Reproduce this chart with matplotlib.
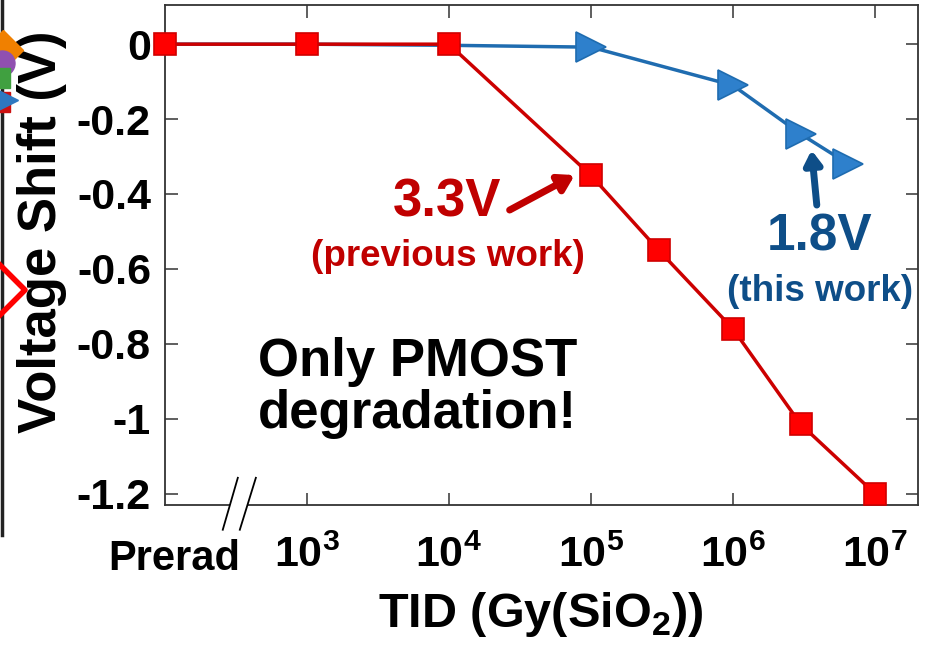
"""
Voltage shift vs. TID for the 3.3V and 1.8V PMOST devices
"""

import matplotlib.pyplot as plt
import matplotlib.transforms as mtransforms
from matplotlib.patches import Polygon

plt.rcParams['font.family'] = ['Liberation Sans', 'DejaVu Sans']
plt.rcParams['font.weight'] = 'bold'
plt.rcParams['mathtext.fontset'] = 'custom'
plt.rcParams['mathtext.rm'] = 'Liberation Sans:bold'
plt.rcParams['mathtext.bf'] = 'Liberation Sans:bold'

# data (Prerad is drawn at 1e2, behind the axis break)
PRERAD = 1e2
red_dose = [PRERAD, 1e3, 1e4, 1e5, 3e5, 1e6, 3e6, 1e7]
red_shift = [0, 0, 0, -0.35, -0.55, -0.76, -1.015, -1.2]

blue_dose = [PRERAD, 1e3, 1e4, 1e5, 1e6, 3e6, 6.5e6]
blue_shift = [0, 0, -0.003, -0.008, -0.11, -0.24, -0.32]

y_ticks = [0, -0.2, -0.4, -0.6, -0.8, -1, -1.2]
y_ticklabels = ['0', '-0.2', '-0.4', '-0.6', '-0.8', '-1', '-1.2']
x_ticks = [1e3, 1e4, 1e5, 1e6, 1e7]
x_ticklabels = [r'$\mathbf{10^{%d}}$' % n for n in range(3, 8)]

RED_LINE = '#CC0000'
RED_FACE = '#FF0000'
RED_TEXT = '#C00000'
BLUE_LINE = '#1F6CB0'
BLUE_FACE = '#2E80CC'
BLUE_TEXT = '#0E4E88'

fig = plt.figure(figsize=(9.26, 6.53), dpi=100)
ax = fig.add_axes([0.178, 0.227, 0.813, 0.765])

ax.plot(blue_dose, blue_shift, color=BLUE_LINE, lw=2.5, marker='>',
        markersize=22, markerfacecolor=BLUE_FACE, markeredgecolor=BLUE_LINE,
        markeredgewidth=1.2, markevery=[3, 4, 5, 6], zorder=3, clip_on=False)
ax.plot(red_dose, red_shift, color=RED_LINE, lw=2.5, marker='s',
        markersize=16, markerfacecolor=RED_FACE, markeredgecolor='#D00000',
        markeredgewidth=1.2, zorder=4, clip_on=False)

ax.set_xscale('log')
ax.set_xlim(PRERAD, 2e7)
ax.set_ylim(-1.23, 0.104)

ax.set_yticks(y_ticks)
ax.set_yticklabels(y_ticklabels)
ax.set_xticks(x_ticks)
ax.set_xticklabels(x_ticklabels)

for s in ax.spines.values():
    s.set_color('#333333')
    s.set_linewidth(1.3)
ax.tick_params(which='both', direction='in', top=True, right=True,
               color='#333333', width=1.1)
ax.tick_params(which='major', length=9, labelsize=31)
ax.tick_params(which='minor', length=5)
ax.tick_params(axis='y', pad=10)
ax.tick_params(axis='x', pad=22)

# Prerad label
trans_xb = mtransforms.blended_transform_factory(ax.transData, ax.transAxes)
ax.text(1.16e2, -0.068, 'Prerad', transform=trans_xb, ha='center', va='top',
        fontsize=30, fontweight='bold')

# axis break on the bottom spine
b1 = [(10**2.408, -0.05), (10**2.514, 0.054)]
b2 = [(10**2.528, -0.05), (10**2.641, 0.054)]
gap = Polygon([b1[0], b1[1], b2[1], b2[0]], closed=True, transform=trans_xb,
              facecolor='white', edgecolor='none', clip_on=False, zorder=5)
ax.add_patch(gap)
for b in (b1, b2):
    ax.plot([b[0][0], b[1][0]], [b[0][1], b[1][1]], transform=trans_xb,
            color='black', lw=1.3, clip_on=False, zorder=6)

ax.set_ylabel('Voltage Shift (V)', fontsize=38, fontweight='bold')
ax.yaxis.set_label_coords(-0.130, 0.546)
ax.set_xlabel(r'TID (Gy(SiO$_{\mathbf{2}}$))', fontsize=35,
              fontweight='bold', labelpad=10)

# annotations
ax.text(0.3745, 0.606, '3.3V', transform=ax.transAxes, ha='center',
        va='center', fontsize=38, color=RED_TEXT)
ax.text(0.376, 0.496, '(previous work)', transform=ax.transAxes,
        ha='center', va='center', fontsize=26.5, color=RED_TEXT)
ax.annotate('', xy=(0.5445, 0.66), xytext=(0.458, 0.59),
            xycoords='axes fraction', textcoords='axes fraction',
            arrowprops=dict(arrowstyle='-|>,head_length=0.9,head_width=0.55',
                            color=RED_TEXT, lw=5, shrinkA=0, shrinkB=0))

ax.text(0.870, 0.536, '1.8V', transform=ax.transAxes, ha='center',
        va='center', fontsize=37, color=BLUE_TEXT)
ax.text(0.870, 0.426, '(this work)', transform=ax.transAxes, ha='center',
        va='center', fontsize=26.5, color=BLUE_TEXT)
ax.annotate('', xy=(0.859, 0.71), xytext=(0.866, 0.60),
            xycoords='axes fraction', textcoords='axes fraction',
            arrowprops=dict(arrowstyle='-|>,head_length=0.8,head_width=0.5',
                            color=BLUE_TEXT, lw=5, shrinkA=0, shrinkB=0))

ax.text(0.336, 0.234, 'Only PMOST\ndegradation!', transform=ax.transAxes,
        ha='center', va='center', fontsize=38, linespacing=1.05,
        color='black')

# cut-off edge of the neighbouring panel
fig.add_artist(plt.Line2D([1.5 / 926, 1.5 / 926], [1, 1 - 535 / 653],
                          transform=fig.transFigure, color='#222222', lw=2.5))
edge = [('D', '#F08000', 3, 50, 20), ('o', '#9050B0', 2, 63, 18),
        ('s', '#40A040', 0, 78, 14), ('s', '#CC1010', 0, 102, 14),
        ('>', '#2E78C0', 4, 100, 20)]
for m, c, px, py, ms in edge:
    fig.add_artist(plt.Line2D([px / 926], [1 - py / 653], marker=m,
                              markersize=ms, color=c, markeredgecolor=c,
                              transform=fig.transFigure, lw=0))
fig.add_artist(plt.Line2D([-10 / 926, 25 / 926, -10 / 926],
                          [1 - 255 / 653, 1 - 290 / 653, 1 - 325 / 653],
                          transform=fig.transFigure, color='#FF0000', lw=4))

fig.savefig('out.png', dpi=100, facecolor='white')
